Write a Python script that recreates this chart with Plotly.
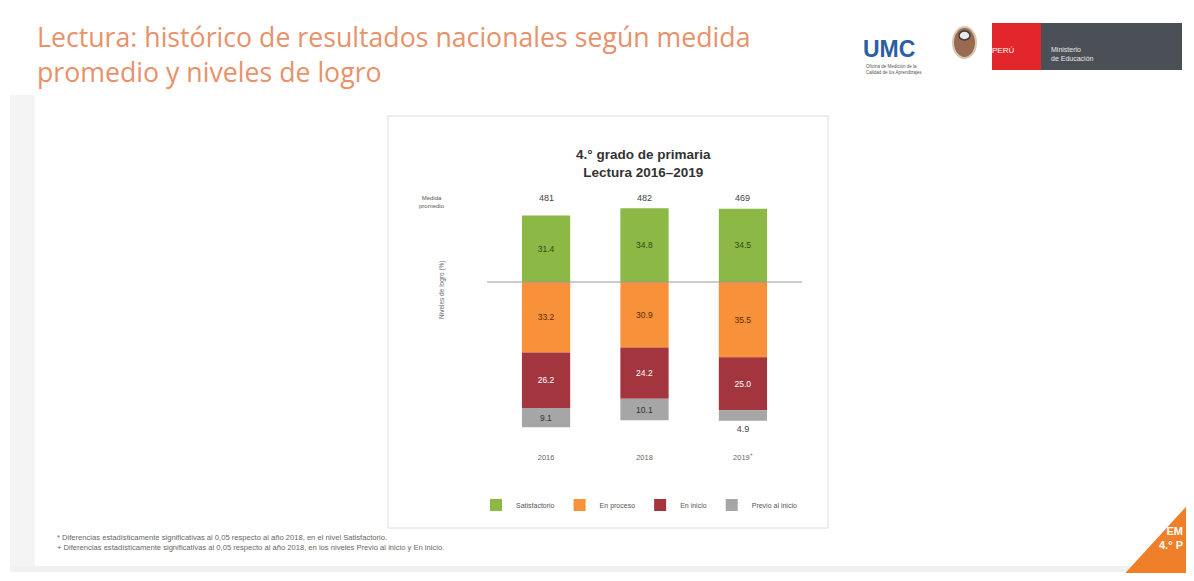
import plotly.graph_objects as go

# ----------------------------------------------------------------------------------------------------------------------------------
# Data

years = ["2016", "2018", "2019<sup>+</sup>"]
medida_promedio = [481, 482, 469]

satisfactorio = [31.4, 34.8, 34.5]
en_proceso = [33.2, 30.9, 35.5]
en_inicio = [26.2, 24.2, 25.0]
previo_inicio = [9.1, 10.1, 4.9]

# ----------------------------------------------------------------------------------------------------------------------------------
# Page helpers (page pixel -> paper); the html body keeps an 8px margin

OFF = 8
W, H = 1194 - 2 * OFF, 581 - 2 * OFF


def px(x):
    return (x - OFF) / W


def py(y):
    return 1 - (y - OFF) / H


# bar area in pixels
ZERO_Y = 282
PX_PER_UNIT = 2.12
Y_TOP, Y_BOT = 40, -75

fig = go.Figure()

series = [
    ("Satisfactorio", satisfactorio, 1, "#8cb845", "#2f4a12"),
    ("En proceso", en_proceso, -1, "#f7923a", "#5a2a05"),
    ("En inicio", en_inicio, -1, "#a3353f", "#ffffff"),
    ("Previo al inicio", previo_inicio, -1, "#a6a6a6", "#333333"),
]

for name, vals, sign, color, tcolor in series:
    positions = ["inside" if v >= 8 else "outside" for v in vals]
    fig.add_trace(go.Bar(
        x=years, y=[sign * v for v in vals], name=name,
        marker=dict(color=color, line=dict(width=0)),
        text=[f"{v:.1f}" for v in vals], texttemplate="%{text}",
        textposition=positions, textangle=0, constraintext="none",
        insidetextanchor="middle",
        insidetextfont=dict(family="Liberation Sans", size=8.5, color=tcolor),
        outsidetextfont=dict(family="Liberation Sans", size=9, color="#444"),
        cliponaxis=False, width=0.49, hoverinfo="skip",
    ))

top_px = ZERO_Y - Y_TOP * PX_PER_UNIT
bot_px = ZERO_Y - Y_BOT * PX_PER_UNIT

fig.update_layout(
    width=W, height=H,
    margin=dict(l=0, r=0, t=0, b=0),
    paper_bgcolor="white", plot_bgcolor="rgba(0,0,0,0)",
    barmode="relative", bargap=0.5,
    showlegend=True,
    legend=dict(orientation="h", x=px(476), xanchor="left", y=py(505), yanchor="middle",
                font=dict(family="Liberation Sans", size=7, color="#555"),
                bgcolor="rgba(0,0,0,0)", itemclick=False, traceorder="normal"),
    xaxis=dict(type="category", domain=[px(487), px(802)], range=[-0.6, 2.6], showgrid=False,
               zeroline=False, showline=False, ticks="", ticklabelstandoff=10,
               tickfont=dict(family="Liberation Sans", size=7.5, color="#666")),
    yaxis=dict(domain=[py(bot_px), py(top_px)], range=[Y_BOT, Y_TOP], visible=False),
)

shapes = []
# left band and bottom band of slide
shapes.append(dict(type="rect", xref="paper", yref="paper", x0=px(10), x1=px(35), y0=py(572), y1=py(95),
                   fillcolor="#f4f4f4", line=dict(width=0), layer="below"))
shapes.append(dict(type="rect", xref="paper", yref="paper", x0=px(10), x1=px(1194), y0=py(572), y1=py(566),
                   fillcolor="#f1f1f1", line=dict(width=0), layer="below"))
# chart panel
shapes.append(dict(type="rect", xref="paper", yref="paper", x0=px(388), x1=px(828), y0=py(528), y1=py(116),
                   fillcolor="white", line=dict(color="#dcdcdc", width=1), layer="below"))
# baseline
shapes.append(dict(type="line", xref="x", yref="y", x0=-0.6, x1=2.6, y0=0, y1=0,
                   line=dict(color="#9a9a9a", width=1), layer="above"))
# logos
shapes.append(dict(type="rect", xref="paper", yref="paper", x0=px(992), x1=px(1041), y0=py(70), y1=py(23),
                   fillcolor="#e3262b", line=dict(width=0)))
shapes.append(dict(type="rect", xref="paper", yref="paper", x0=px(1041), x1=px(1182), y0=py(70), y1=py(23),
                   fillcolor="#4b5056", line=dict(width=0)))
shapes.append(dict(type="circle", xref="paper", yref="paper", x0=px(953), x1=px(976), y0=py(58), y1=py(27),
                   fillcolor="#9a6a50", line=dict(color="#d6c8b0", width=2)))
shapes.append(dict(type="circle", xref="paper", yref="paper", x0=px(959), x1=px(970), y0=py(40), y1=py(31),
                   fillcolor="#e8e8e8", line=dict(color="#3c3c3c", width=1.5)))
# corner triangle
shapes.append(dict(type="path", xref="paper", yref="paper",
                   path=f"M {px(1194)},{py(498)} L {px(1194)},{py(581)} L {px(1118)},{py(581)} Z",
                   fillcolor="#f07f2a", line=dict(width=0)))
fig.update_layout(shapes=shapes)

ann = []
# slide title
ann.append(dict(text="Lectura: histórico de resultados nacionales según medida<br>promedio y niveles de logro",
                xref="paper", yref="paper", x=px(35), y=py(16), xanchor="left", yanchor="top", align="left",
                showarrow=False, font=dict(family="Open Sans", size=26.7, color="#e8916a")))
# chart title
ann.append(dict(text="<b>4.° grado de primaria<br>Lectura 2016–2019</b>", xref="paper", yref="paper",
                x=px(643), y=py(145), showarrow=False,
                font=dict(family="Liberation Sans", size=13.5, color="#333")))
ann.append(dict(text="Medida<br>promedio", xref="paper", yref="paper", x=px(432), y=py(193), showarrow=False,
                font=dict(family="Liberation Sans", size=6, color="#555")))
ann.append(dict(text="Niveles de logro (%)", xref="paper", yref="paper", x=px(442), y=py(290), showarrow=False,
                textangle=-90, font=dict(family="Liberation Sans", size=6.5, color="#666")))
for i, m in enumerate(medida_promedio):
    ann.append(dict(text=str(m), xref="x", yref="paper", x=i, y=py(198), showarrow=False,
                    font=dict(family="Liberation Sans", size=9, color="#444")))
# footnotes
ann.append(dict(text="* Diferencias estadísticamente significativas al 0,05 respecto al año 2018, en el nivel Satisfactorio.<br>"
                     "+ Diferencias estadísticamente significativas al 0,05 respecto al año 2018, en los niveles Previo al inicio y En inicio.",
                xref="paper", yref="paper", x=px(55), y=py(531), xanchor="left", yanchor="top", align="left",
                showarrow=False, font=dict(family="Liberation Sans", size=7.6, color="#666")))
# logos text
ann.append(dict(text="<b>UMC</b>", xref="paper", yref="paper", x=px(861), y=py(34), xanchor="left", showarrow=False,
                font=dict(family="Liberation Sans", size=23, color="#2a5ea6")))
ann.append(dict(text="Oficina de Medición de la<br>Calidad de los Aprendizajes", xref="paper", yref="paper",
                x=px(864), y=py(62), xanchor="left", showarrow=False, align="left",
                font=dict(family="Liberation Sans", size=4.5, color="#555")))
ann.append(dict(text="PERÚ", xref="paper", yref="paper", x=px(1016), y=py(44), showarrow=False,
                font=dict(family="Liberation Sans", size=8, color="white")))
ann.append(dict(text="Ministerio<br>de Educación", xref="paper", yref="paper", x=px(1049), y=py(44),
                xanchor="left", align="left", showarrow=False,
                font=dict(family="Liberation Sans", size=7, color="#e8e8e8")))
ann.append(dict(text="<b>EM<br>4.° P</b>", xref="paper", yref="paper", x=px(1185), y=py(553), xanchor="right",
                align="right", showarrow=False, font=dict(family="Liberation Sans", size=11, color="white")))
fig.update_layout(annotations=ann)

fig.write_html("out.html")
